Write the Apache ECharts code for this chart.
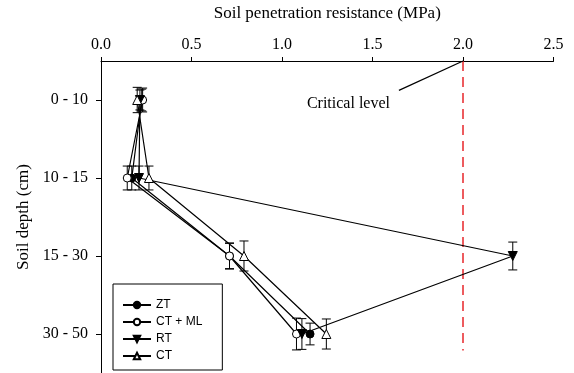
<!DOCTYPE html>
<html>
<head>
<meta charset="utf-8">
<script src="https://cdn.jsdelivr.net/npm/echarts@6/dist/echarts.min.js"></script>
<style>
  html, body { margin: 0; padding: 0; background: #fff; }
  #chart { width: 574px; height: 373px; }
</style>
</head>
<body>
<div id="chart"></div>
<script>
// Soil depth layers (plotted top to bottom at positions 1..4)
const depthLabels = ['0 - 10', '10 - 15', '15 - 30', '30 - 50'];
const depthPos = [1, 2, 3, 4];

// Mean penetration resistance (MPa) per tillage system
const ztValues   = [0.225, 0.17, 0.71, 1.155];
const ctmlValues = [0.23, 0.145, 0.71, 1.08];
const rtValues   = [0.215, 0.21, 2.275, 1.11];
const ctValues   = [0.20, 0.265, 0.79, 1.245];

// Standard errors (MPa), drawn as whiskers through each point
const ztErr   = [0.060, 0.066, 0.070, 0.060];
const ctmlErr = [0.066, 0.066, 0.072, 0.088];
const rtErr   = [0.055, 0.066, 0.077, 0.085];
const ctErr   = [0.070, 0.066, 0.083, 0.083];

const seriesNames = ['ZT', 'CT + ML', 'RT', 'CT'];
const criticalLevel = 2.0;
const criticalLabel = 'Critical level';

const serif = '"Liberation Serif", "Times New Roman", serif';
const sans = '"Liberation Sans", Arial, sans-serif';

const downTriangle = 'path://M0,0 L10,0 L5,9 Z';

function pairs(vals) { return vals.map((v, i) => [v, depthPos[i]]); }
function errRows(vals, errs) { return vals.map((v, i) => [v, depthPos[i], errs[i]]); }

function lineSeries(name, vals, symbol, filled, size) {
  return {
    name: name,
    type: 'line',
    data: pairs(vals),
    symbol: symbol,
    symbolSize: size,
    showAllSymbol: true,
    z: 5,
    lineStyle: { color: '#000', width: 1.2 },
    itemStyle: { color: filled ? '#000' : '#fff', borderColor: '#000', borderWidth: 1 },
    emphasis: { disabled: true }
  };
}

// Vertical whisker with caps centred on each point
function errorSeries(vals, errs) {
  return {
    type: 'custom',
    data: errRows(vals, errs),
    z: 4,
    silent: true,
    renderItem: function (params, api) {
      const c = api.coord([api.value(0), api.value(1)]);
      const half = api.size([api.value(2), 0])[0];
      const cap = 4.5;
      const style = { stroke: '#000', lineWidth: 1 };
      return {
        type: 'group',
        children: [
          { type: 'line', shape: { x1: c[0], y1: c[1] - half, x2: c[0], y2: c[1] + half }, style: style },
          { type: 'line', shape: { x1: c[0] - cap, y1: c[1] - half, x2: c[0] + cap, y2: c[1] - half }, style: style },
          { type: 'line', shape: { x1: c[0] - cap, y1: c[1] + half, x2: c[0] + cap, y2: c[1] + half }, style: style }
        ]
      };
    }
  };
}

const chart = echarts.init(document.getElementById('chart'), null, { renderer: 'canvas' });

const option = {
  animation: false,
  backgroundColor: '#fff',
  grid: { left: 101, top: 58, width: 452.5, height: 318 },
  xAxis: {
    type: 'value',
    position: 'top',
    min: 0,
    max: 2.5,
    interval: 0.5,
    name: 'Soil penetration resistance (MPa)',
    nameLocation: 'middle',
    nameGap: 39,
    nameTextStyle: { fontFamily: serif, fontSize: 17, color: '#000' },
    axisLine: { lineStyle: { color: '#000', width: 1 } },
    axisTick: { show: true, inside: false, length: 4, lineStyle: { color: '#000' } },
    axisLabel: { fontFamily: serif, fontSize: 16, color: '#000', margin: 8, formatter: v => v.toFixed(1) },
    splitLine: { show: false }
  },
  yAxis: {
    type: 'value',
    inverse: true,
    min: 0.5,
    max: 4.5,
    name: 'Soil depth (cm)',
    nameLocation: 'middle',
    nameGap: 63,
    nameTextStyle: { fontFamily: serif, fontSize: 17, color: '#000' },
    axisLine: { show: true, lineStyle: { color: '#000', width: 1 } },
    axisTick: { show: true, inside: false, length: 5, customValues: depthPos, lineStyle: { color: '#000' } },
    axisLabel: {
      fontFamily: serif, fontSize: 16, color: '#000', margin: 13,
      customValues: depthPos,
      formatter: v => depthLabels[Math.round(v) - 1] || ''
    },
    splitLine: { show: false }
  },
  legend: {
    data: seriesNames,
    orient: 'vertical',
    left: 113,
    top: 284,
    padding: [15, 20, 8, 9],
    itemGap: 5,
    itemWidth: 28,
    itemHeight: 8,
    borderColor: '#000',
    borderWidth: 1,
    borderRadius: 0,
    backgroundColor: '#fff',
    textStyle: { fontFamily: sans, fontSize: 12, color: '#000' },
    selectedMode: false
  },
  series: [
    errorSeries(ztValues, ztErr),
    errorSeries(ctmlValues, ctmlErr),
    errorSeries(rtValues, rtErr),
    errorSeries(ctValues, ctErr),
    lineSeries('ZT', ztValues, 'circle', true, 8),
    lineSeries('CT + ML', ctmlValues, 'circle', false, 8),
    lineSeries('RT', rtValues, downTriangle, true, 9),
    lineSeries('CT', ctValues, 'triangle', false, 9),
    {
      type: 'line',
      data: [],
      silent: true,
      markLine: {
        silent: true,
        symbol: 'none',
        animation: false,
        label: { show: false },
        data: [
          [
            { coord: [criticalLevel, 0.5], lineStyle: { color: '#e8262a', width: 1.5, type: [10, 6] } },
            { coord: [criticalLevel, 4.21] }
          ],
          [
            { coord: [1.646, 0.877], lineStyle: { color: '#000', width: 1.2, type: 'solid' } },
            { coord: [criticalLevel, 0.5] }
          ]
        ]
      }
    }
  ]
};

chart.setOption(option);

// Annotation text next to the leader line
const anchor = chart.convertToPixel({ gridIndex: 0 }, [1.646, 0.877]);
chart.setOption({
  graphic: [{
    type: 'text',
    left: anchor[0] - 92,
    top: anchor[1] + 5,
    style: { text: criticalLabel, fontFamily: serif, fontSize: 16, fill: '#000' }
  }]
});
</script>
</body>
</html>
